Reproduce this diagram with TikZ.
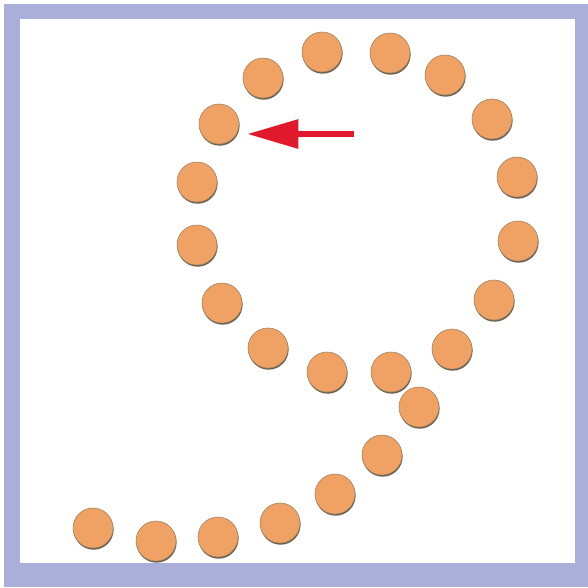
\documentclass[tikz,border=0pt]{standalone}
\usetikzlibrary{arrows.meta}
\definecolor{lav}{HTML}{AAAFDA}
\definecolor{dotorange}{HTML}{EFA263}
\definecolor{dotedge}{HTML}{A08466}
\definecolor{dotshadow}{HTML}{6E604C}
\definecolor{arrowred}{HTML}{E01A2C}
\tikzset{
  dot/.style={circle, minimum size=40pt, inner sep=0pt, fill=dotorange, draw=dotedge, line width=0.6pt,
    preaction={fill=dotshadow, transform canvas={shift={(0.6pt,-1.7pt)}}}},
  redarrow/.style={draw=arrowred, line width=6pt, -{Triangle[length=51pt,width=28pt,fill=arrowred]}}
}
\begin{document}
\begin{tikzpicture}[x=1pt,y=-1pt]
\useasboundingbox (0,0) rectangle (588,587);
\fill[white] (0,0) rectangle (588,587);
\fill[lav] (4,4) rectangle (588,587);
\fill[white] (20,19) rectangle (575,563);
\foreach \i/\x/\y in {1/322/52, 2/390/53, 3/445/75, 4/263/78, 5/492/119, 6/219/124,
  7/517/177, 8/197/182, 9/197/245, 10/518/241, 11/222/303, 12/494/300,
  13/268/348, 14/452/349, 15/327/372, 16/391/372, 17/419/407, 18/382/455,
  19/335/494, 20/280/523, 21/218/537, 22/156/541, 23/93/528}
  \node[dot] (d\i) at (\x,\y) {};
\coordinate (as) at (354,134);
\draw[redarrow] (as) -- ([xshift=8pt]d6.east |- as);
\end{tikzpicture}
\end{document}
